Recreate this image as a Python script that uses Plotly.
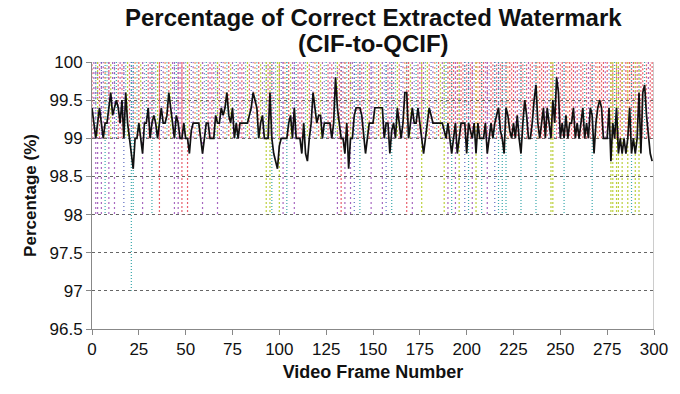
import plotly.graph_objects as go

frames = list(range(300))
percentage = [
    99.4, 99.2, 99.0, 99.2, 99.4, 99.2, 99.0, 99.2, 99.2, 99.4,
    99.6, 99.3, 99.4, 99.5, 99.4, 99.2, 99.5, 99.0, 99.6, 99.2,
    99.0, 98.8, 98.6, 99.0, 99.0, 99.2, 99.0, 98.8, 99.2, 99.2,
    99.4, 99.0, 99.2, 99.3, 99.2, 99.0, 99.2, 99.4, 99.2, 99.2,
    99.3, 99.6, 99.4, 99.2, 99.0, 99.3, 99.2, 99.0, 99.0, 99.2,
    99.0, 99.0, 98.8, 99.1, 99.2, 99.2, 99.2, 99.2, 99.0, 98.8,
    99.0, 99.2, 99.2, 99.0, 99.0, 99.0, 99.3, 99.2, 99.2, 99.4,
    99.3, 99.4, 99.6, 99.3, 99.2, 99.4, 99.0, 99.2, 99.0, 99.2,
    99.2, 99.2, 99.2, 99.2, 99.3, 99.4, 99.6, 99.5, 99.4, 99.0,
    99.2, 99.3, 99.0, 99.0, 99.0, 99.6, 99.0, 98.8, 98.7, 98.6,
    98.9, 99.0, 99.0, 99.0, 99.0, 99.2, 99.3, 99.0, 99.4, 99.0,
    99.0, 99.0, 98.8, 99.2, 98.8, 98.7, 99.0, 99.2, 99.6, 99.4,
    99.2, 99.3, 99.3, 99.0, 99.2, 99.2, 99.2, 99.2, 99.0, 99.2,
    99.8, 99.4, 99.2, 99.0, 99.0, 98.8, 99.2, 98.6, 99.0, 99.0,
    99.3, 99.4, 99.4, 99.4, 99.3, 99.0, 98.8, 99.0, 99.2, 99.2,
    99.2, 99.4, 99.4, 99.4, 99.4, 99.4, 99.0, 99.2, 99.2, 98.8,
    99.1, 99.2, 99.0, 99.4, 99.2, 99.0, 99.2, 99.6, 99.6, 99.0,
    99.2, 99.4, 99.2, 99.2, 99.4, 99.2, 99.0, 98.8, 99.0, 99.2,
    99.4, 99.3, 99.2, 99.2, 99.2, 99.2, 99.2, 99.2, 99.1, 99.0,
    99.2, 99.0, 98.8, 99.0, 99.2, 98.8, 99.0, 99.2, 99.2, 99.2,
    98.8, 99.2, 99.1, 99.0, 99.2, 98.8, 99.2, 99.0, 99.0, 99.0,
    99.2, 98.8, 99.0, 99.2, 99.0, 99.2, 99.3, 99.4, 99.1, 99.0,
    98.8, 99.4, 99.3, 99.1, 99.0, 99.2, 99.0, 99.3, 99.0, 98.8,
    99.2, 99.5, 99.3, 99.0, 99.0, 99.2, 99.5, 99.7, 99.2, 99.0,
    99.2, 99.4, 99.0, 99.4, 99.2, 99.0, 99.5, 99.2, 99.8, 99.6,
    99.0, 99.2, 99.0, 99.3, 99.0, 99.2, 99.2, 99.4, 99.0, 99.2,
    99.0, 99.2, 99.4, 99.0, 99.2, 99.0, 99.4, 99.3, 98.8, 99.2,
    99.4, 99.5, 99.4, 99.0, 99.0, 99.0, 99.4, 98.7, 99.2, 99.0,
    99.4, 98.8, 99.0, 98.8, 99.0, 98.8, 99.0, 99.4, 98.8, 99.0,
    98.8, 99.0, 99.6, 98.8, 99.6, 99.7, 99.3, 99.0, 98.8, 98.7,
]

# colored dotted series: frames where the dotted lines drop to 98 (one to 97)
low_frames = [2, 3, 5, 7, 9, 12, 17, 21, 22, 27, 32, 36, 44, 46, 48, 51, 59, 67,
              93, 95, 96, 100, 102, 104, 108, 131, 133, 135, 138, 140, 143, 149,
              155, 157, 160, 168, 171, 176, 188, 190, 192, 194, 196, 199, 201,
              203, 205, 208, 211, 215, 217, 219, 221, 229, 237, 245, 246, 252,
              267, 277, 278, 280, 281, 283, 286, 288, 290, 292]
low_values = [98.0] * len(low_frames)
low_values[7] = 97.0
low_colors = ["p", "p", "p", "t", "p", "p", "b", "t", "t", "p", "t", "r", "p", "p",
              "r", "r", "p", "p",
              "g", "g", "t", "g", "p", "t", "p", "p", "r", "p", "p", "b", "t", "p",
              "p", "b", "t", "r", "p", "g", "g", "p", "t", "p", "g", "b", "t",
              "p", "g", "t", "p", "b", "t", "t", "t", "t", "t", "g", "g", "t",
              "t", "g", "g", "g", "g", "g", "g", "t", "g", "g"]

palette = {"r": "#e8606c", "p": "#a868c0", "t": "#3aa8ac", "g": "#bcd03c",
           "b": "#5a68c0", "o": "#f09a58"}
dashes = {"r": "2px,2px", "p": "2px,3px", "t": "1px,2px", "g": "2px,2px",
          "b": "1px,3px", "o": "2px,3px"}
upper_pattern_left = "rptgrbpotrgpbtrp"
upper_pattern_right = "rrprbrrtrprrbror"

fig = go.Figure()

seg = {k: ([], []) for k in palette}
for i, f in enumerate(frames):
    pat = upper_pattern_left if f < 190 else upper_pattern_right
    c = pat[i % len(pat)]
    seg[c][0].extend([f, f, None])
    seg[c][1].extend([100, 99, None] if i % 2 else [99, 100, None])
for f, v, c in zip(low_frames, low_values, low_colors):
    seg[c][0].extend([f, f, None])
    seg[c][1].extend([100, v, None])
for c, (xs, ys) in seg.items():
    fig.add_trace(go.Scatter(x=xs, y=ys, mode="lines",
                             line=dict(color=palette[c], width=1.2, dash=dashes[c]),
                             hoverinfo="skip", showlegend=False))

fig.add_trace(go.Scatter(x=frames, y=percentage, mode="lines",
                         line=dict(color="#111111", width=1.7),
                         showlegend=False))

font = "Liberation Sans, Arial, sans-serif"
fig.update_layout(
    width=680, height=394,
    margin=dict(l=92, r=17, t=62, b=65),
    paper_bgcolor="white", plot_bgcolor="white",
    font=dict(family=font, color="#111111", size=17),
    xaxis=dict(range=[0, 300], tickmode="array", tickvals=list(range(0, 301, 25)),
               showgrid=False, zeroline=False, showline=True, linecolor="#888888",
               linewidth=1, ticks="outside", ticklen=5, tickcolor="#888888",
               title=dict(text="<b>Video Frame Number</b>", font=dict(size=18), standoff=6),
               tickfont=dict(size=17)),
    yaxis=dict(range=[96.5, 100], tickmode="array",
               tickvals=[96.5, 97, 97.5, 98, 98.5, 99, 99.5, 100],
               ticktext=["96.5", "97", "97.5", "98", "98.5", "99", "99.5", "100"],
               showgrid=True, gridcolor="#666666", griddash="dot", gridwidth=1,
               zeroline=False, showline=True, linecolor="#888888", linewidth=1,
               ticks="outside", ticklen=5, tickcolor="#888888",
               title=dict(text="<b>Percentage (%)</b>", font=dict(size=17), standoff=8),
               tickfont=dict(size=17)),
)
fig.add_annotation(text="<b>Percentage of Correct Extracted Watermark</b>",
                   xref="paper", yref="paper", x=0.5, y=(329 - 17) / 267,
                   xanchor="center", yanchor="middle", showarrow=False,
                   font=dict(size=24, family=font))
fig.add_annotation(text="<b>(CIF-to-QCIF)</b>",
                   xref="paper", yref="paper", x=0.5, y=(329 - 43) / 267,
                   xanchor="center", yanchor="middle", showarrow=False,
                   font=dict(size=24, family=font))
fig.add_shape(type="line", xref="x", yref="paper", x0=300, x1=300, y0=0, y1=1,
              line=dict(color="#999999", width=1))

fig.write_html("out.html")
